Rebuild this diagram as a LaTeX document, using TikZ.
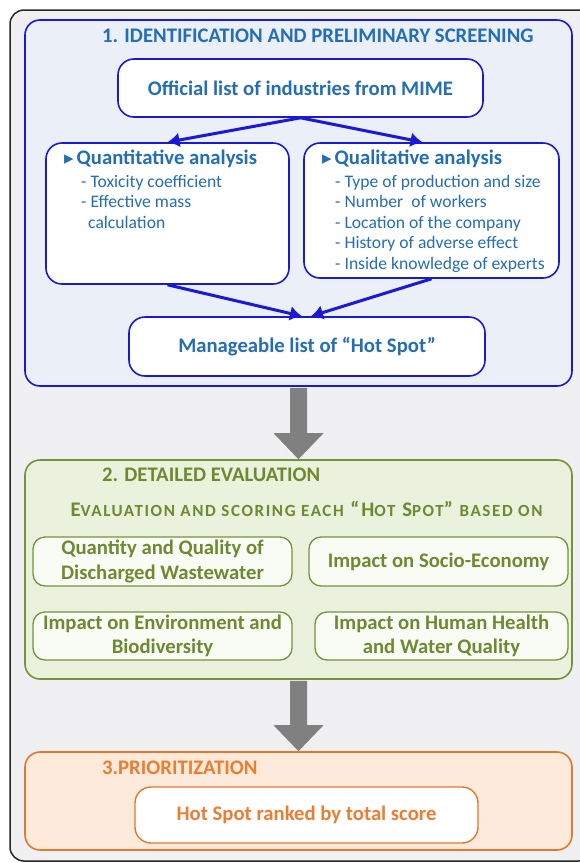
\documentclass[tikz,border=0pt]{standalone}
\usepackage{fontspec}
\setmainfont{Carlito}
\newfontfamily\simbolos{DejaVu Sans}
\usetikzlibrary{arrows.meta,calc,positioning}

\definecolor{fondo}{RGB}{240,240,242}
\definecolor{fondoazul}{RGB}{234,239,248}
\definecolor{bordeazul}{RGB}{25,25,215}
\definecolor{azultexto}{RGB}{35,110,180}
\definecolor{grisflecha}{RGB}{128,128,128}
\definecolor{bordeverde}{RGB}{118,146,60}
\definecolor{fondoverde}{RGB}{234,241,221}
\definecolor{verdetexto}{RGB}{108,138,48}
\definecolor{bordenaranja}{RGB}{228,120,45}
\definecolor{fondonaranja}{RGB}{253,234,218}
\definecolor{naranjatexto}{RGB}{236,125,49}

% letras pequenas para las versalitas
\newcommand{\vers}[1]{{\fontsize{17}{17}\selectfont #1}}

\tikzset{
  seccion/.style={line width=1.6pt, rounded corners=15pt},
  titulo/.style={font=\bfseries\fontsize{20.7}{24}\selectfont, inner sep=0pt},
  caja/.style={draw=bordeazul, fill=white, line width=1.6pt, rounded corners=16pt,
    text=azultexto, font=\bfseries\fontsize{20.7}{24}\selectfont},
  encabezado/.style={text=azultexto, font=\bfseries\fontsize{20.7}{24}\selectfont, inner sep=0pt},
  lista/.style={text=azultexto, align=left, font=\fontsize{17.6}{20.5}\selectfont, inner sep=0pt},
  flechaazul/.style={draw=bordeazul, line width=3pt, -{Latex[length=12pt,width=15pt]}},
  criterio/.style={draw=bordeverde, fill=white!70!fondoverde, line width=1.3pt, rounded corners=12pt,
    text=verdetexto, align=center, font=\bfseries\fontsize{20.7}{24.5}\selectfont, inner sep=0pt},
  flechagris/.style={fill=grisflecha}
}

\begin{document}
\begin{tikzpicture}[x=1pt, y=-1pt]
    \useasboundingbox (0,0) rectangle (579,863);

    % MARCO EXTERIOR
    \draw[line width=1.5pt, draw=black!85, fill=fondo, rounded corners=14pt] (10,10) rectangle (592,861);

    % SECCION 1: identificacion
    \node[seccion, draw=bordeazul, fill=fondoazul, minimum width=547pt, minimum height=366pt] (sec1) at (298.5,203) {};
    \node[titulo, text=azultexto, anchor=west] (tit1) at (102,36) {1. IDENTIFICATION AND PRELIMINARY SCREENING};

    \node[caja, minimum width=365pt, minimum height=58pt] (oficial) at (300.5,88) {Official list of industries from MIME};
    \node[caja, minimum width=243pt, minimum height=141pt] (cuanti) at (167.5,213.5) {};
    \node[caja, minimum width=255pt, minimum height=135pt] (cuali) at (431.5,210.5) {};

    % textos de los dos analisis
    \node[encabezado, anchor=west] (cuantitit) at (64,159) {{\simbolos\fontsize{19}{19}\selectfont ▸}\hspace{3pt}Quantitative analysis};
    \node[lista, anchor=north west] (cuantilista) at (81,175) {- Toxicity coefficient\\- Effective mass\\\hspace{7pt}calculation};
    \node[encabezado, anchor=west] (cualitit) at (322,159) {{\simbolos\fontsize{19}{19}\selectfont ▸}\hspace{3pt}Qualitative analysis};
    \node[lista, anchor=north west] (cualilista) at (335,175) {- Type of production and size\\- Number\ \ of workers\\- Location of the company\\- History of adverse effect\\- Inside knowledge of experts};

    \node[caja, minimum width=356pt, minimum height=59pt] (manejable) at (307,346.5) {Manageable list of “Hot Spot”};

    % flechas azules
    \draw[flechaazul] (oficial.south) -- (cuanti.north);
    \draw[flechaazul] (oficial.south) -- ([xshift=-9pt]cuali.north);
    \draw[flechaazul] (cuanti.south) -- ([xshift=-5pt]manejable.north);
    \draw[flechaazul] (cuali.south) -- ([xshift=4pt]manejable.north);

    % SECCION 2: evaluacion
    \node[seccion, draw=bordeverde, fill=fondoverde, minimum width=547pt, minimum height=219pt] (sec2) at (298.5,569.5) {};
    \node[titulo, text=verdetexto, anchor=west] (tit2) at (102,475) {2. DETAILED EVALUATION};
    \node[titulo, text=verdetexto] (subtit2) at (306.5,509) {\addfontfeature{LetterSpace=9.5}E\vers{VALUATION AND SCORING EACH} “H\vers{OT} S\vers{POT}” \vers{BASED ON}};

    \node[criterio, minimum width=259pt, minimum height=49pt] (cantidad) at (162.5,561.5) {Quantity and Quality of\\Discharged Wastewater};
    \node[criterio, minimum width=259pt, minimum height=49pt] (socio) at (438.5,561.5) {Impact on Socio-Economy};
    \node[criterio, minimum width=259pt, minimum height=48pt] (ambiente) at (162.5,636) {Impact on Environment and\\Biodiversity};
    \node[criterio, minimum width=253pt, minimum height=48pt] (salud) at (441.5,636) {Impact on Human Health\\and Water Quality};

    % SECCION 3: priorizacion
    \node[seccion, draw=bordenaranja, fill=fondonaranja, minimum width=547pt, minimum height=98pt] (sec3) at (298.5,801) {};
    \node[titulo, text=naranjatexto, anchor=west] (tit3) at (102,768) {3.PRIORITIZATION};
    \node[caja, draw=bordenaranja, text=naranjatexto, line width=1.4pt, minimum width=343pt, minimum height=56pt] (ranking) at (306.5,815) {Hot Spot ranked by total score};

    % Flechas grises entre secciones
    \fill[flechagris] ($(sec1.south)+(-8.5,1)$) -- ($(sec2.north)+(-8.5,-26)$) -- ($(sec2.north)+(-25,-26)$) -- (sec2.north)
        -- ($(sec2.north)+(25,-26)$) -- ($(sec2.north)+(8.5,-26)$) -- ($(sec1.south)+(8.5,1)$) -- cycle;
    \fill[flechagris] ($(sec2.south)+(-8.5,1)$) -- ($(sec3.north)+(-8.5,-26)$) -- ($(sec3.north)+(-25,-26)$) -- (sec3.north)
        -- ($(sec3.north)+(25,-26)$) -- ($(sec3.north)+(8.5,-26)$) -- ($(sec2.south)+(8.5,1)$) -- cycle;
\end{tikzpicture}
\end{document}
